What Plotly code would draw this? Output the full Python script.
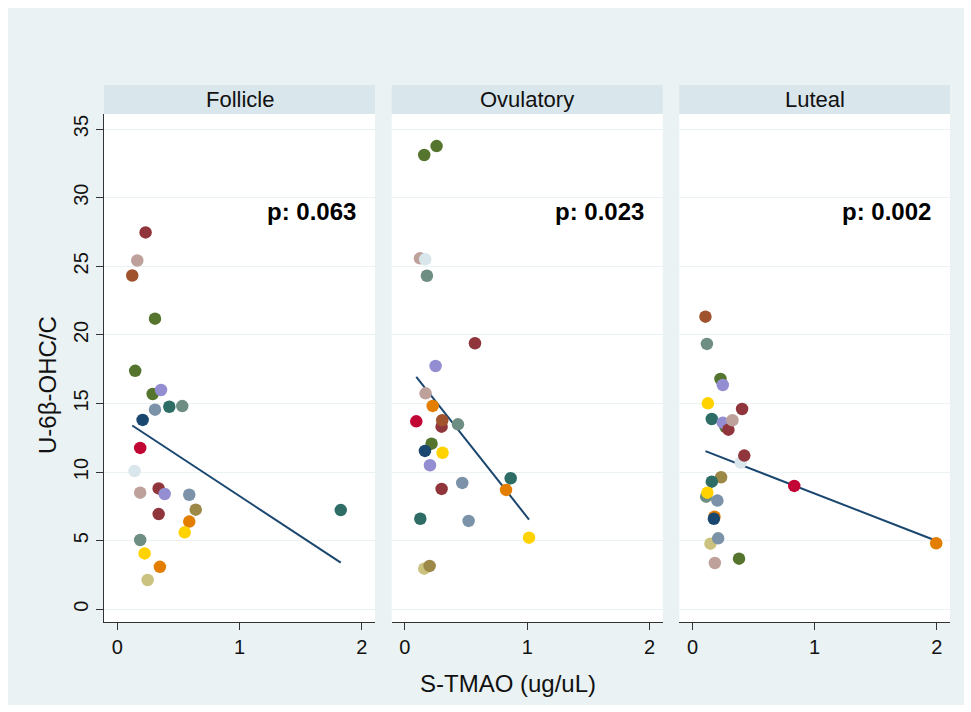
import numpy as np
import plotly.graph_objects as go

# ---- data -------------------------------------------------------------
phases = ["Follicle", "Ovulatory", "Luteal"]
p_labels = ["p: 0.063", "p: 0.023", "p: 0.002"]

follicle_x = [0.232, 0.164, 0.123, 0.309, 0.147, 0.290, 0.358, 0.309, 0.426, 0.532,
              0.208, 0.188, 0.142, 0.188, 0.339, 0.388, 0.589, 0.642, 0.339, 0.589,
              0.552, 0.188, 0.224, 0.349, 0.249, 1.828]
follicle_y = [27.47, 25.42, 24.33, 21.18, 17.38, 15.69, 15.98, 14.55, 14.76, 14.81,
              13.80, 11.76, 10.07, 8.50, 8.81, 8.40, 8.35, 7.26, 6.94, 6.39,
              5.61, 5.05, 4.07, 3.09, 2.13, 7.23]
follicle_c = ["maroon", "erose", "sienna", "forest", "forest", "forest", "lavender",
              "emidblue", "emerald", "teal", "navy", "cranberry", "bluishgray", "erose",
              "maroon", "lavender", "emidblue", "brown", "maroon", "dkorange", "gold",
              "teal", "gold", "dkorange", "khaki", "emerald"]

ovulatory_x = [0.158, 0.259, 0.123, 0.166, 0.180, 0.573, 0.251, 0.169, 0.227, 0.093,
               0.300, 0.305, 0.434, 0.218, 0.164, 0.308, 0.205, 0.865, 0.469, 0.300,
               0.827, 0.126, 0.521, 1.015, 0.158, 0.202]
ovulatory_y = [33.11, 33.76, 25.58, 25.51, 24.31, 19.39, 17.73, 15.74, 14.82, 13.70,
               13.31, 13.78, 13.48, 12.07, 11.54, 11.41, 10.50, 9.55, 9.21, 8.77,
               8.70, 6.60, 6.44, 5.22, 2.96, 3.16]
ovulatory_c = ["forest", "forest", "erose", "bluishgray", "teal", "maroon", "lavender",
               "erose", "dkorange", "cranberry", "maroon", "sienna", "teal", "forest",
               "navy", "gold", "lavender", "emerald", "emidblue", "maroon", "dkorange",
               "emerald", "emidblue", "gold", "khaki", "brown"]

luteal_x = [0.106, 0.118, 0.229, 0.248, 0.126, 0.406, 0.158, 0.270, 0.248, 0.294,
            0.327, 0.395, 0.424, 0.833, 0.234, 0.158, 0.112, 0.122, 0.204, 0.180,
            0.175, 0.147, 0.210, 0.381, 0.183, 1.995]
luteal_y = [21.33, 19.34, 16.79, 16.35, 15.01, 14.60, 13.87, 13.30, 13.60, 13.09,
            13.78, 10.69, 11.20, 8.99, 9.62, 9.30, 8.21, 8.50, 7.92, 6.75,
            6.60, 4.78, 5.17, 3.69, 3.37, 4.81]
luteal_c = ["sienna", "teal", "forest", "lavender", "gold", "maroon", "emerald", "forest",
            "lavender", "maroon", "erose", "bluishgray", "maroon", "cranberry", "brown",
            "emerald", "teal", "gold", "emidblue", "dkorange", "navy", "khaki",
            "emidblue", "forest", "erose", "dkorange"]

x_ticks = [0, 1, 2]
y_ticks = [0, 5, 10, 15, 20, 25, 30, 35]

# ---- style ------------------------------------------------------------
palette = {
    "navy": "#1a476f", "maroon": "#90353b", "forest": "#55752f", "dkorange": "#e37e00",
    "teal": "#6e8e84", "cranberry": "#c10534", "lavender": "#938dd2", "khaki": "#cac27e",
    "sienna": "#a0522d", "emidblue": "#7b92a8", "emerald": "#2d6d66", "brown": "#9c8847",
    "erose": "#bfa19c", "gold": "#ffd200", "bluishgray": "#d9e6eb",
}
W, H = 971, 712
FONT = "Liberation Sans, Arial, sans-serif"
BG = "#eaf2f3"
STRIP = "#d9e6eb"
AXIS = "#333333"
FIT = "#1a476f"

# panel geometry in pixels (left, right); plot top/bottom shared
panel_px = [(104, 375), (391.7, 662.7), (679.3, 950)]
plot_top, plot_bot = 114, 622.3
strip_top = 85


def px_x(v):
    return v / W


def px_y(v):
    return 1 - v / H


series = [
    (follicle_x, follicle_y, follicle_c),
    (ovulatory_x, ovulatory_y, ovulatory_c),
    (luteal_x, luteal_y, luteal_c),
]

fig = go.Figure()
shapes = [
    dict(type="rect", xref="paper", yref="paper", x0=px_x(8), x1=px_x(964),
         y0=px_y(705), y1=px_y(8), fillcolor=BG, line=dict(width=0), layer="below"),
]
annotations = []

for i, (xs, ys, cs) in enumerate(series):
    n = i + 1
    xa = "x" if n == 1 else f"x{n}"
    ya = "y" if n == 1 else f"y{n}"
    xv = np.asarray(xs)
    yv = np.asarray(ys)
    # least-squares fitted line over the observed x range
    slope, intercept = np.polyfit(xv, yv, 1)
    fx = np.array([xv.min(), xv.max()])
    fig.add_trace(go.Scatter(x=fx, y=intercept + slope * fx, mode="lines",
                             line=dict(color=FIT, width=2), xaxis=xa, yaxis=ya,
                             hoverinfo="skip", showlegend=False))
    fig.add_trace(go.Scatter(x=xs, y=ys, mode="markers",
                             marker=dict(size=12.5, color=[palette[c] for c in cs],
                                         line=dict(width=0)),
                             xaxis=xa, yaxis=ya, showlegend=False))

    l, r = panel_px[i]
    dom_x = [px_x(l), px_x(r)]
    dom_y = [px_y(plot_bot), px_y(plot_top)]
    fig.layout[f"xaxis{'' if n == 1 else n}"] = dict(
        domain=dom_x, range=[-0.108, 2.108], tickvals=x_ticks,
        ticks="outside", ticklen=7, tickwidth=1.3, tickcolor=AXIS,
        showline=True, linecolor=AXIS, linewidth=1.3, showgrid=False, zeroline=False,
        tickfont=dict(family=FONT, size=20, color="#111"), anchor=ya, fixedrange=True,
    )
    yax = dict(
        domain=dom_y, range=[-0.95, 36.1], tickvals=y_ticks, showgrid=True,
        gridcolor=BG, gridwidth=1.2, zeroline=False, anchor=xa, fixedrange=True,
    )
    if n == 1:
        yax.update(showline=True, linecolor=AXIS, linewidth=1.3, ticks="outside",
                   ticklen=7, tickwidth=1.3, tickcolor=AXIS, tickangle=-90,
                   tickfont=dict(family=FONT, size=20, color="#111"))
    else:
        yax.update(showline=False, ticks="", showticklabels=False)
    fig.layout[f"yaxis{'' if n == 1 else n}"] = yax

    # plot area and header strip
    shapes.append(dict(type="rect", xref="paper", yref="paper", x0=dom_x[0], x1=dom_x[1],
                       y0=dom_y[0], y1=dom_y[1], fillcolor="white",
                       line=dict(width=0), layer="below"))
    shapes.append(dict(type="rect", xref="paper", yref="paper", x0=dom_x[0], x1=dom_x[1],
                       y0=px_y(plot_top), y1=px_y(strip_top), fillcolor=STRIP,
                       line=dict(width=0), layer="below"))
    annotations.append(dict(text=phases[i], xref="paper", yref="paper",
                            x=(dom_x[0] + dom_x[1]) / 2, y=px_y((plot_top + strip_top) / 2),
                            xanchor="center", yanchor="middle", showarrow=False,
                            font=dict(family=FONT, size=22, color="#111")))
    annotations.append(dict(text=f"<b>{p_labels[i]}</b>", xref=xa, yref=ya,
                            x=1.97, y=29.0, xanchor="right", yanchor="middle",
                            showarrow=False, font=dict(family=FONT, size=24, color="#000")))

annotations.append(dict(text="S-TMAO (ug/uL)", xref="paper", yref="paper",
                        x=px_x(508), y=px_y(683), xanchor="center", yanchor="middle",
                        showarrow=False, font=dict(family=FONT, size=24, color="#111")))
annotations.append(dict(text="U-6β-OHC/C", xref="paper", yref="paper",
                        x=px_x(47), y=px_y(385), xanchor="center", yanchor="middle",
                        textangle=-90, showarrow=False,
                        font=dict(family=FONT, size=24, color="#111")))

fig.update_layout(
    width=W, height=H, margin=dict(l=0, r=0, t=0, b=0),
    paper_bgcolor="white", plot_bgcolor="white",
    shapes=shapes, annotations=annotations, showlegend=False,
)

fig.write_html("out.html")
